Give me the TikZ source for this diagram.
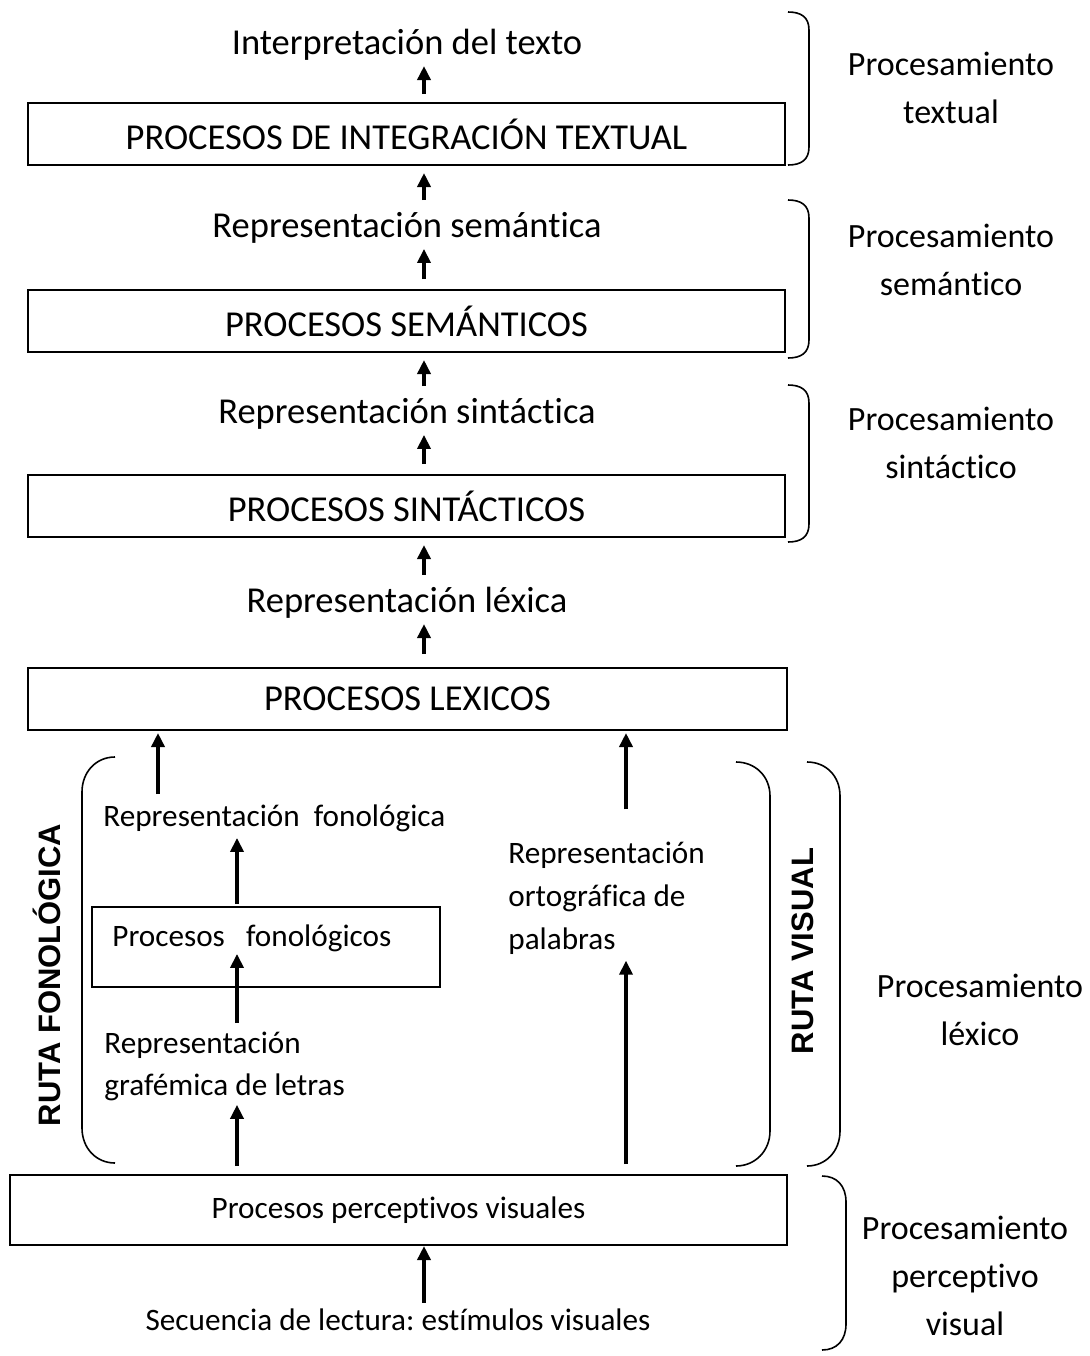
\documentclass[tikz,border=0pt]{standalone}
\usepackage{fontspec}
\setmainfont{Carlito}[Ligatures=NoCommon]
\newfontfamily\rutafont{Liberation Sans}
\usetikzlibrary{arrows.meta}
\frenchspacing

\tikzset{
    caja/.style={draw, line width=1pt, inner sep=0pt, minimum height=31pt},
    textogr/.style={inner sep=0pt, font=\fontsize{18.25}{23.5}\selectfont},
    textopq/.style={inner sep=0pt, font=\fontsize{15.6}{21}\selectfont},
    etiq/.style={inner sep=0pt, align=center, font=\fontsize{17}{23.8}\selectfont},
    ruta/.style={inner sep=0pt, rotate=90, font=\rutafont\bfseries\fontsize{15.5}{18}\selectfont},
    flecha/.style={line width=2pt, -{Triangle[length=7pt,width=6.5pt]}},
    llave/.style={line width=0.8pt}
}

\begin{document}
\begin{tikzpicture}[x=0.5pt,y=-0.5pt]
                \useasboundingbox (0,0) rectangle (1090,1356);

                % ejes de las flechas
                \coordinate (ejeC) at (424,0);
                \coordinate (ejeF) at (158,0);
                \coordinate (ejeG) at (237,0);
                \coordinate (ejeV) at (626,0);

                % columna central
                \node[textogr] (interp) at (407,45) {Interpretación del texto};
                \node[caja, textogr, minimum width=378.5pt] (integ) at (406.5,134) {PROCESOS DE INTEGRACIÓN TEXTUAL};
                \node[textogr] (rsem) at (407,228) {Representación semántica};
                \node[caja, textogr, minimum width=378.5pt] (psem) at (406.5,321) {PROCESOS SEMÁNTICOS};
                \node[textogr] (rsin) at (407,414) {Representación sintáctica};
                \node[caja, textogr, minimum width=378.5pt] (psin) at (406.5,506) {PROCESOS SINTÁCTICOS};
                \node[textogr] (rlex) at (407,603) {Representación léxica};
                \node[caja, textogr, minimum width=379.5pt] (plex) at (407.5,699) {PROCESOS LEXICOS};

                % rutas
                \node[textopq, anchor=west] (rfon) at (103,818) {Representación~~fonológica};
                \node[caja, minimum width=174pt, minimum height=40pt] (pfon) at (266,947) {};
                \node[textopq, anchor=west] (tfon) at (112,938) {Procesos~~~fonológicos};
                \node[textopq, anchor=west, align=left] (rgraf) at (104,1066) {Representación\\grafémica de letras};
                \node[textopq, anchor=west, align=left, font=\fontsize{15.6}{21.5}\selectfont] (rorto) at (508,898) {Representación\\ortográfica de\\palabras};
                \node[ruta] (rutaF) at (47,975) {RUTA FONOLÓGICA};
                \node[ruta] (rutaV) at (803,951) {RUTA VISUAL};

                % entrada perceptiva
                \node[caja, textopq, minimum width=388.5pt, minimum height=35pt] (ppv) at (398.5,1210) {Procesos perceptivos visuales};
                \node[textopq] (secu) at (398,1320) {Secuencia de lectura: estímulos visuales};

                % flechas
                \draw[flecha, shorten <=4pt, shorten >=2.5pt] (integ.north -| ejeC) -- (interp.south -| ejeC);
                \draw[flecha, shorten <=6pt, shorten >=3.5pt] (rsem.north -| ejeC) -- (integ.south -| ejeC);
                \draw[flecha, shorten <=5pt, shorten >=2.5pt] (psem.north -| ejeC) -- (rsem.south -| ejeC);
                \draw[flecha, shorten <=6pt, shorten >=3.5pt] (rsin.north -| ejeC) -- (psem.south -| ejeC);
                \draw[flecha, shorten <=5pt, shorten >=2.5pt] (psin.north -| ejeC) -- (rsin.south -| ejeC);
                \draw[flecha, shorten <=6pt, shorten >=3.5pt] (rlex.north -| ejeC) -- (psin.south -| ejeC);
                \draw[flecha, shorten <=6.5pt, shorten >=2.5pt] (plex.north -| ejeC) -- (rlex.south -| ejeC);
                \draw[flecha, shorten <=5pt, shorten >=1pt] (rfon.north -| ejeF) -- (plex.south -| ejeF);
                \draw[flecha, shorten <=16pt, shorten >=1pt] (rorto.north -| ejeV) -- (plex.south -| ejeV);
                \draw[flecha, shorten <=1pt, shorten >=3pt] (pfon.north -| ejeG) -- (rfon.south -| ejeG);
                \draw[flecha, shorten <=4pt, shorten >=1pt] (rgraf.north -| ejeG) -- (tfon.south -| ejeG);
                \draw[flecha, shorten <=4pt, shorten >=2pt] (ppv.north -| ejeG) -- (rgraf.south -| ejeG);
                \draw[flecha, shorten <=5pt, shorten >=3pt] (ppv.north -| ejeV) -- (rorto.south -| ejeV);
                \draw[flecha, shorten <=3pt, shorten >=0pt] (secu.north -| ejeC) -- (ppv.south -| ejeC);

                % llaves
                \draw[llave] (788,12) .. controls (801,12) and (809,17) .. (809,30) -- (809,147) .. controls (809,160) and (801,165) .. (788,165);
                \draw[llave] (788,200) .. controls (801,200) and (809,205) .. (809,218) -- (809,340) .. controls (809,353) and (801,358) .. (788,358);
                \draw[llave] (788,385) .. controls (801,385) and (809,390) .. (809,403) -- (809,524) .. controls (809,537) and (801,542) .. (788,542);
                \draw[llave] (115,757) .. controls (96,757) and (82,772) .. (82,792) -- (82,1128) .. controls (82,1148) and (96,1163) .. (115,1163);
                \draw[llave] (736,762) .. controls (755,762) and (770,776) .. (770,796) -- (770,1131) .. controls (770,1151) and (755,1166) .. (736,1166);
                \draw[llave] (807,762) .. controls (826,762) and (840,776) .. (840,796) -- (840,1131) .. controls (840,1151) and (826,1166) .. (807,1166);
                \draw[llave] (822,1176) .. controls (837,1176) and (846,1186) .. (846,1202) -- (846,1324) .. controls (846,1340) and (837,1350) .. (822,1350);

                \node[etiq] (etTex) at (951,88) {Procesamiento\\textual};
                \node[etiq] (etSem) at (951,260) {Procesamiento\\semántico};
                \node[etiq] (etSin) at (951,443) {Procesamiento\\sintáctico};
                \node[etiq] (etLex) at (980,1010) {Procesamiento\\léxico};
                \node[etiq] (etPer) at (965,1276) {Procesamiento\\perceptivo\\visual};
\end{tikzpicture}
\end{document}
